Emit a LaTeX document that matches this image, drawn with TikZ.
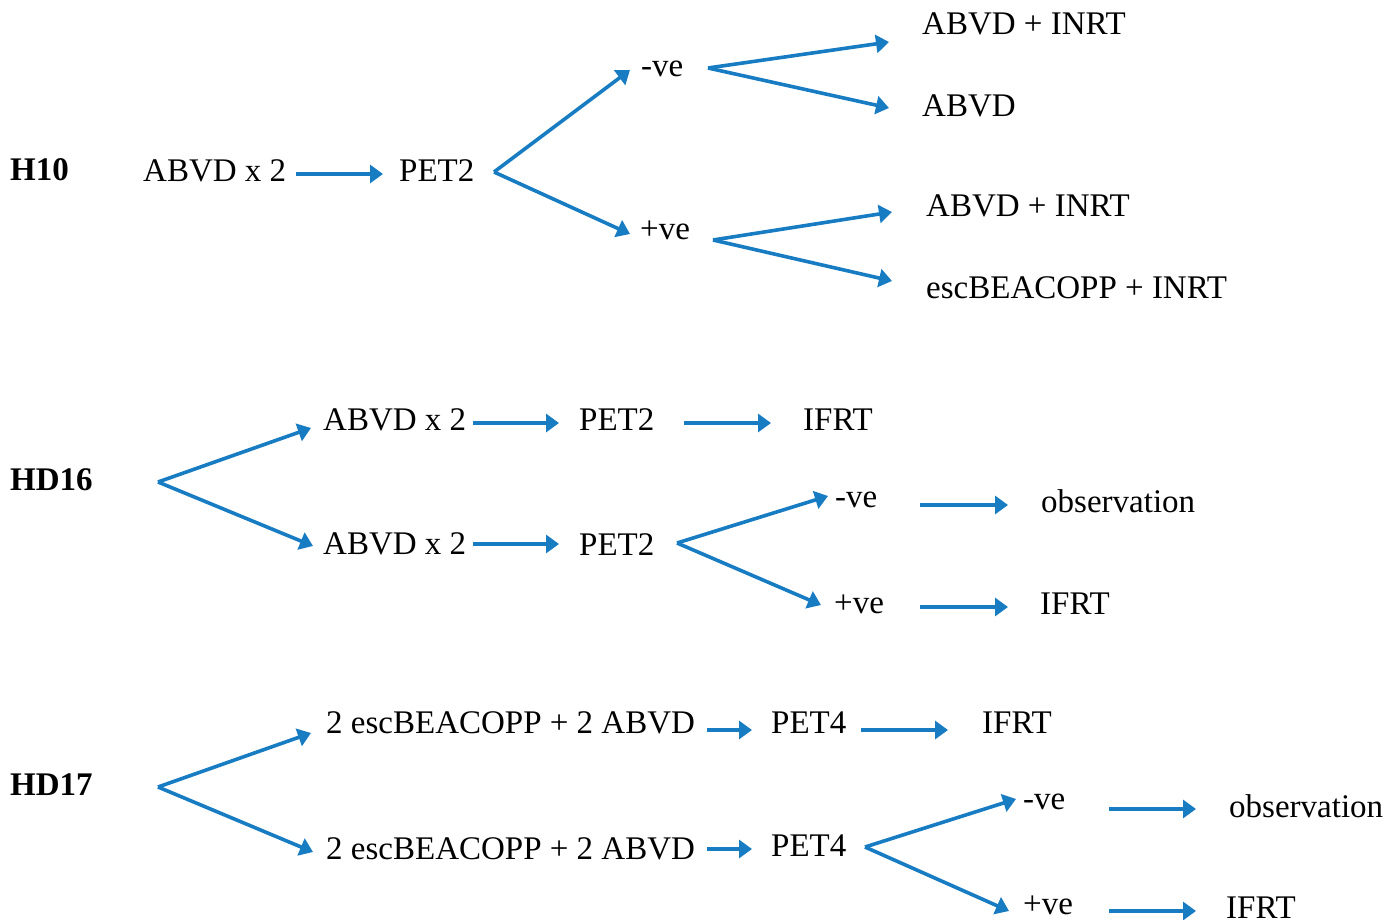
\documentclass[tikz,border=0pt]{standalone}
\usepackage{fontspec}
\setmainfont{Liberation Serif}
\newfontfamily\tnrfont{Liberation Serif}
\usetikzlibrary{arrows.meta}
\definecolor{arrowblue}{RGB}{24,124,195}
\begin{document}
\begin{tikzpicture}[x=1pt,y=-1pt,
 lbl/.style={anchor=base west,inner sep=0pt,font=\tnrfont\fontsize{33}{38}\selectfont},
 hdr/.style={anchor=base west,inner sep=0pt,font=\tnrfont\fontsize{33}{38}\selectfont\bfseries},
 arr/.style={draw=arrowblue,line width=3.6pt,-{Triangle[length=13pt,width=18pt]}}]
\useasboundingbox (0,0) rectangle (1399,920);

% ---------------- H10 ----------------
\node[hdr] (h10) at (10,181) {H10};
\node[lbl] (a1) at (143,182) {ABVD x 2};
\node[lbl] (p1) at (399,182) {PET2};
\node[lbl] (n1) at (641,77) {-ve};
\node[lbl] (q1) at (640,239) {+ve};
\node[lbl] (r1) at (922,35) {ABVD + INRT};
\node[lbl] (r2) at (922,117) {ABVD};
\node[lbl] (r3) at (926,216) {ABVD + INRT};
\node[lbl] (r4) at (926,298) {escBEACOPP + INRT};

\coordinate (a1s) at (296,174);
\coordinate (a1e) at (383,174);
\coordinate (f1) at (494,172);
\coordinate (f1u) at (630,70);
\coordinate (f1d) at (630,234);
\coordinate (f2) at (708,68);
\coordinate (f2u) at (889,42);
\coordinate (f2d) at (889,108);
\coordinate (f3) at (713,240);
\coordinate (f3u) at (892,212);
\coordinate (f3d) at (892,281);

\draw[arr] (a1s) -- (a1e);
\draw[arr] (f1) -- (f1u);
\draw[arr] (f1) -- (f1d);
\draw[arr] (f2) -- (f2u);
\draw[arr] (f2) -- (f2d);
\draw[arr] (f3) -- (f3u);
\draw[arr] (f3) -- (f3d);

% ---------------- HD16 ----------------
\node[hdr] (hd16) at (10,490) {HD16};
\node[lbl] (b1) at (323,430) {ABVD x 2};
\node[lbl] (b2) at (579,430) {PET2};
\node[lbl] (b3) at (803,430) {IFRT};
\node[lbl] (c1) at (323,554) {ABVD x 2};
\node[lbl] (c2) at (579,555) {PET2};
\node[lbl] (c3) at (835,507) {-ve};
\node[lbl] (c4) at (1041,512) {observation};
\node[lbl] (c5) at (834,613) {+ve};
\node[lbl] (c6) at (1040,614) {IFRT};

\coordinate (g1) at (158,482);
\coordinate (g1u) at (311,428);
\coordinate (g1d) at (313,546);
\coordinate (b1s) at (473,423);
\coordinate (b1e) at (559,423);
\coordinate (b2s) at (684,423);
\coordinate (b2e) at (771,423);
\coordinate (c1s) at (473,544);
\coordinate (c1e) at (559,544);
\coordinate (g2) at (677,543);
\coordinate (g2u) at (828,496);
\coordinate (g2d) at (821,605);
\coordinate (c3s) at (920,505);
\coordinate (c3e) at (1008,505);
\coordinate (c5s) at (920,607);
\coordinate (c5e) at (1008,607);

\draw[arr] (g1) -- (g1u);
\draw[arr] (g1) -- (g1d);
\draw[arr] (b1s) -- (b1e);
\draw[arr] (b2s) -- (b2e);
\draw[arr] (c1s) -- (c1e);
\draw[arr] (g2) -- (g2u);
\draw[arr] (g2) -- (g2d);
\draw[arr] (c3s) -- (c3e);
\draw[arr] (c5s) -- (c5e);

% ---------------- HD17 ----------------
\node[hdr] (hd17) at (10,795) {HD17};
\node[lbl] (d1) at (326,733) {2 escBEACOPP + 2 ABVD};
\node[lbl] (d2) at (771,733) {PET4};
\node[lbl] (d3) at (982,733) {IFRT};
\node[lbl] (e1) at (326,859) {2 escBEACOPP + 2 ABVD};
\node[lbl] (e2) at (771,856) {PET4};
\node[lbl] (e3) at (1023,809) {-ve};
\node[lbl] (e4) at (1229,817) {observation};
\node[lbl] (e5) at (1023,914) {+ve};
\node[lbl] (e6) at (1226,918) {IFRT};

\coordinate (k1) at (158,787);
\coordinate (k1u) at (311,733);
\coordinate (k1d) at (313,852);
\coordinate (d1s) at (707,730);
\coordinate (d1e) at (752,730);
\coordinate (d2s) at (861,730);
\coordinate (d2e) at (948,730);
\coordinate (e1s) at (707,849);
\coordinate (e1e) at (752,849);
\coordinate (k2) at (865,847);
\coordinate (k2u) at (1016,799);
\coordinate (k2d) at (1009,911);
\coordinate (e3s) at (1109,809);
\coordinate (e3e) at (1196,809);
\coordinate (e5s) at (1109,911);
\coordinate (e5e) at (1196,911);

\draw[arr] (k1) -- (k1u);
\draw[arr] (k1) -- (k1d);
\draw[arr] (d1s) -- (d1e);
\draw[arr] (d2s) -- (d2e);
\draw[arr] (e1s) -- (e1e);
\draw[arr] (k2) -- (k2u);
\draw[arr] (k2) -- (k2d);
\draw[arr] (e3s) -- (e3e);
\draw[arr] (e5s) -- (e5e);
\end{tikzpicture}
\end{document}
